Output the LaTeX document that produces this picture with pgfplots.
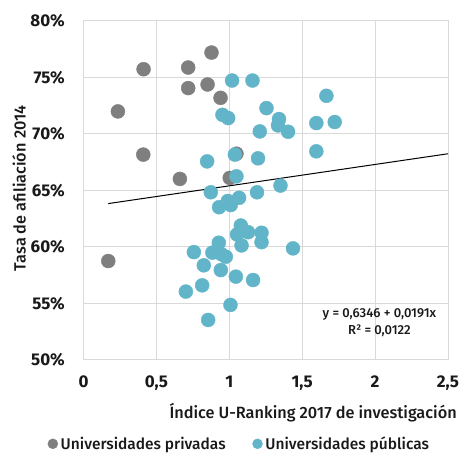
\documentclass[border=0pt]{standalone}
\usepackage{fontspec}
\setmainfont{Fira Sans}
\newfontfamily\medfont{Fira Sans Medium}
\usepackage{pgfplots}
\pgfplotsset{compat=1.18}
\definecolor{gridc}{HTML}{D9D9D9}
\definecolor{priv}{HTML}{7F7F7F}
\definecolor{pub}{HTML}{62B5C8}
\begin{document}
\begin{tikzpicture}
\begin{axis}[
  scale only axis, width=364.5pt, height=339.3pt,
  xmin=0, xmax=2.5, ymin=50, ymax=80,
  xtick={0,0.5,1,1.5,2,2.5},
  xticklabels={0,{0,5},1,{1,5},2,{2,5}},
  ytick={50,55,60,65,70,75,80},
  yticklabels={50\%,55\%,60\%,65\%,70\%,75\%,80\%},
  major tick length=0pt,
  grid=major,
  major grid style={gridc, line width=1pt},
  axis line style={gridc, line width=1pt},
  ticklabel style={font=\bfseries\fontsize{17}{19}\selectfont, text=black!90},
  yticklabel style={anchor=east, inner sep=0pt, xshift=-18.5pt},
  xticklabel style={anchor=north, inner sep=0pt, yshift=-16pt},
  xlabel={Índice U-Ranking 2017 de investigación},
  ylabel={Tasa de afiliación 2014},
  label style={font=\medfont\fontsize{16.3}{19}\selectfont, text=black!90},
  xlabel style={at={(axis description cs:0.63,-0.156)}, anchor=center},
  ylabel style={at={(axis description cs:-0.177,0.506)}, anchor=center},
  legend columns=2,
  legend style={draw=none, fill=none, inner sep=0pt, outer sep=0pt,
    at={(axis description cs:0.4247,-0.247)}, anchor=center,
    nodes={inner sep=0pt, font=\medfont\fontsize{15.5}{18}\selectfont, text=black!90},
    column sep=0pt,
    /tikz/every even column/.append style={column sep=26.7pt}},
  legend image code/.code={\fill[#1] (0pt,0pt) circle (5pt);},
  clip=false,
]
\addplot[only marks, mark=*, mark size=7pt, mark options={draw=priv, fill=priv}, color=priv] coordinates {
(0.412,75.71) (0.236,71.98) (0.718,75.86) (0.878,77.18) (0.718,74.04) (0.851,74.36)
(0.940,73.18) (0.410,68.16) (0.661,66.01) (1.049,68.24) (1.003,66.10) (0.170,58.75)
};
\addlegendentry{\hspace{2.7pt}Universidades privadas}
\addplot[only marks, mark=*, mark size=7pt, mark options={draw=pub, fill=pub}, color=pub] coordinates {
(1.019,74.71) (1.159,74.71) (1.666,73.36) (0.953,71.68) (0.992,71.39) (1.255,72.27)
(1.341,71.30) (1.334,70.74) (1.403,70.18) (1.209,70.21) (1.597,70.95) (1.723,71.04)
(1.597,68.45) (1.038,68.16) (1.197,67.83) (0.848,67.56) (1.049,66.24) (1.351,65.42)
(1.190,64.83) (0.873,64.83) (1.067,64.34) (0.990,64.06) (1.010,63.70) (0.930,63.51)
(1.079,61.89) (1.053,61.10) (1.129,61.30) (1.221,61.25) (1.221,60.42) (1.084,60.13)
(1.437,59.87) (0.928,60.37) (0.757,59.54) (0.884,59.49) (0.947,59.34) (0.976,59.13)
(0.825,58.37) (0.942,57.95) (1.045,57.37) (1.163,57.07) (0.814,56.60) (0.702,56.05)
(1.008,54.87) (0.855,53.54)
};
\addlegendentry{\hspace{2.7pt}Universidades públicas}
\addplot[black, line width=1pt, forget plot] coordinates {(0.17,63.83) (2.5,68.235)};
\node[align=center, font=\medfont\fontsize{13}{17}\selectfont, text=black!90] at (axis cs:2.03,53.3) {y = 0,6346 + 0,0191x\\R² = 0,0122};
\end{axis}
\pgfresetboundingbox
\useasboundingbox (-83.5pt,-94pt) rectangle (381.5pt,360pt);
\end{tikzpicture}
\end{document}
